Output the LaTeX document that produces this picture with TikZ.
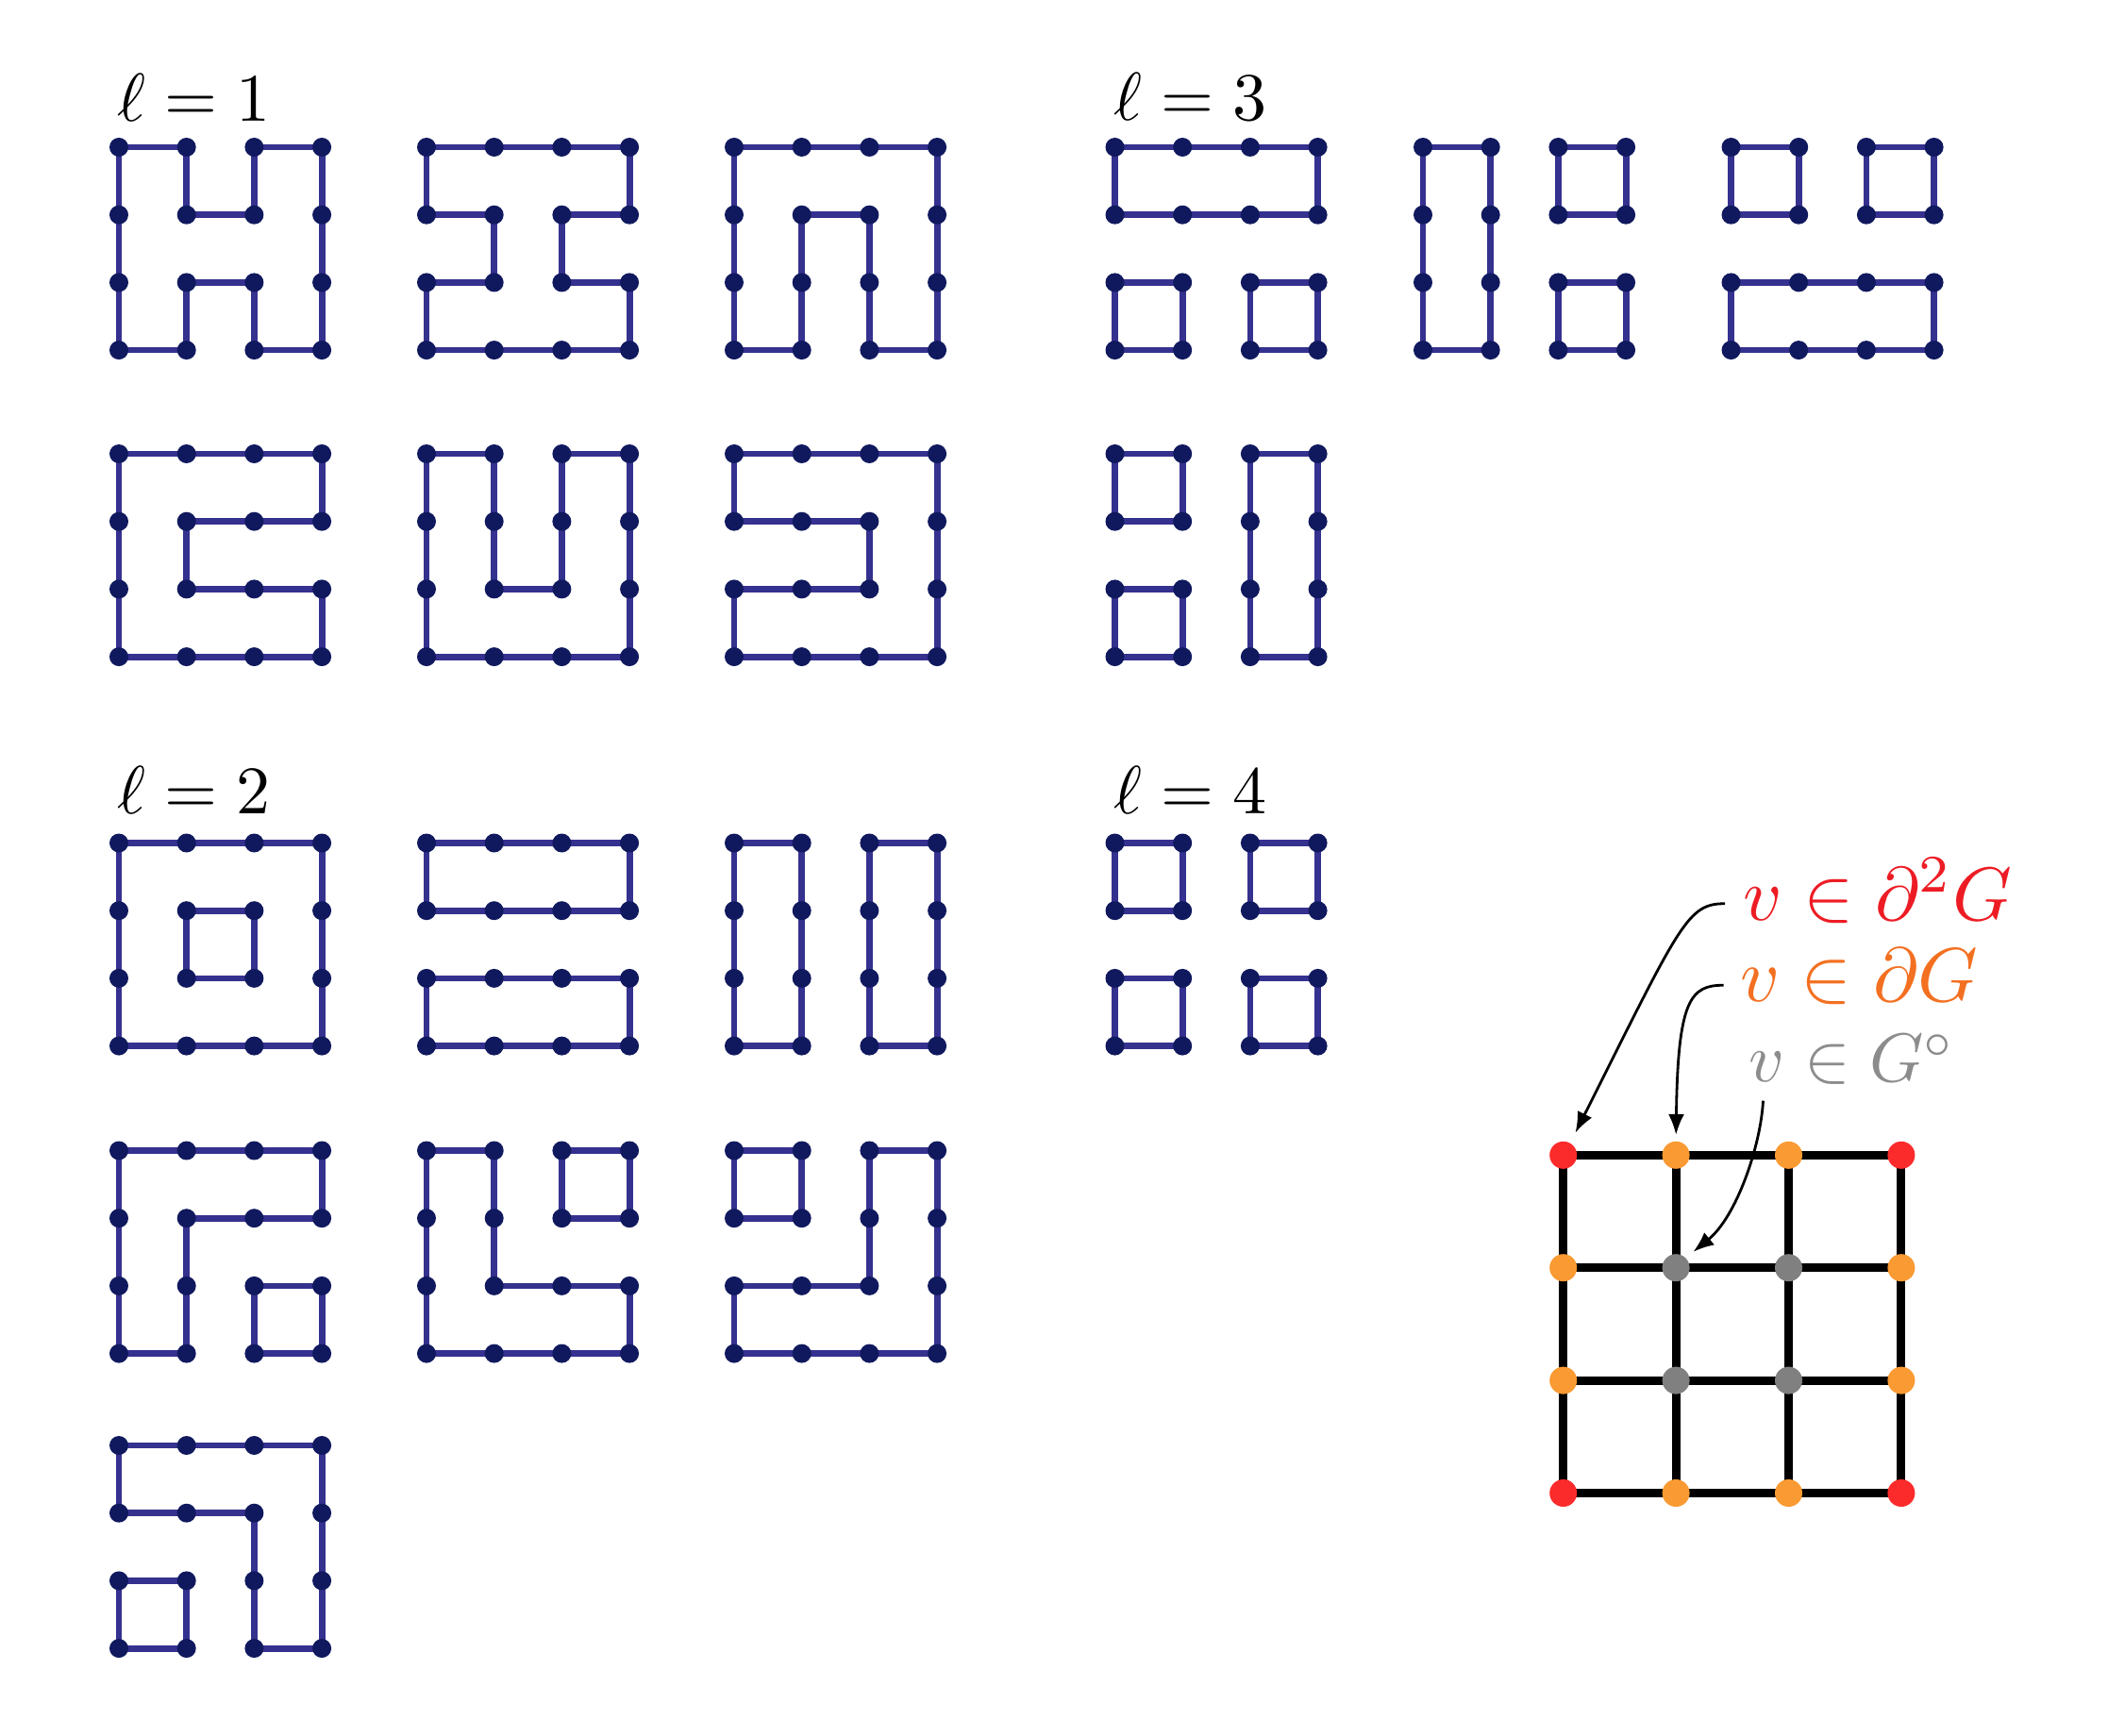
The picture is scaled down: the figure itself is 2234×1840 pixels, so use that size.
\documentclass[tikz,border=0pt]{standalone}
\usetikzlibrary{arrows.meta}
\pgfdeclarelayer{bg}
\pgfsetlayers{bg,main}
\definecolor{dotc}{HTML}{10195E}
\definecolor{edgec}{HTML}{35318F}
\definecolor{redd}{HTML}{FC2B2B}
\definecolor{orad}{HTML}{F99A32}
\definecolor{grad}{HTML}{808080}
\definecolor{redt}{HTML}{ED1C24}
\definecolor{orat}{HTML}{F37021}
\definecolor{grat}{HTML}{8C8C8C}
\newcommand\mkgrid[3]{\foreach \i in {0,...,3}{\foreach \j in {0,...,3}{\node[vdot] (#1-\i-\j) at ({#2+\i*71.7},{#3+\j*71.7}) {};}}}
\newcommand\mkcyc[3]{\draw[cedge] (#1-#2.center) foreach \p in {#3}{ -- (#1-\p.center)} -- cycle;}
\begin{document}
\begin{tikzpicture}[x=0.5pt,y=-0.5pt,
  vdot/.style={circle,fill=dotc,inner sep=0pt,minimum size=10pt},
  cedge/.style={draw=edgec,line width=3.4pt,line join=round},
  gdot/.style={circle,inner sep=0pt,minimum size=14.5pt},
  gline/.style={draw=black,line width=4.5pt},
  lab/.style={anchor=base west,inner sep=0pt,scale=3.6},
  lgd/.style={anchor=base west,inner sep=0pt},
  arr/.style={-{Latex[length=11pt,width=8.5pt]},line width=1.4pt}]
\useasboundingbox (0,0) rectangle (2234,1840);
% labels
\node[lab] (L1) at (123,128.5) {$\ell=1$};
\node[lab] (L3) at (1179,128) {$\ell=3$};
\node[lab] (L2) at (123,862) {$\ell=2$};
\node[lab] (L4) at (1179,862) {$\ell=4$};
% grids
\mkgrid{A1}{126}{156}
\mkgrid{A2}{452}{156}
\mkgrid{A3}{778}{156}
\mkgrid{A4}{126}{481}
\mkgrid{A5}{452}{481}
\mkgrid{A6}{778}{481}
\mkgrid{C1}{1181.5}{156}
\mkgrid{C2}{1508}{156}
\mkgrid{C3}{1834.5}{156}
\mkgrid{C4}{1181.5}{481}
\mkgrid{B1}{126}{893.5}
\mkgrid{B2}{452}{893.5}
\mkgrid{B3}{778}{893.5}
\mkgrid{B4}{126}{1219.5}
\mkgrid{B5}{452}{1219.5}
\mkgrid{B6}{778}{1219.5}
\mkgrid{B7}{126}{1532}
\mkgrid{D1}{1181.5}{893.5}
% big grid
\foreach \i in {0,...,3}{\foreach \j in {0,...,3}{
  \pgfmathtruncatemacro\bi{(\i==0||\i==3)+(\j==0||\j==3)}
  \ifcase\bi \def\cc{grad}\or \def\cc{orad}\or \def\cc{redd}\fi
  \node[gdot,fill=\cc] (g-\i-\j) at ({1656.7+\i*119.4},{1224.3+\j*119.4}) {};
}}
% legend
\node[lgd,scale=4.0,text=redt] (l1) at (1846,975) {$v\in\partial^2G$};
\node[lgd,scale=4.05,text=orat] (l2) at (1842.5,1061.7) {$v\in\partial G$};
\node[lgd,scale=3.65,text=grat] (l3) at (1852.5,1146.7) {$v\in G^\circ$};
\draw[arr,shorten >=6pt] ([xshift=-9pt]l1.mid west) .. controls +(-40,0) and +(117,-233) .. (g-0-0.60);
\draw[arr,shorten >=3.25pt] ([xshift=-8pt]l2.mid west) .. controls +(-35,0) and +(2,-150) .. (g-1-0.north);
\draw[arr,shorten >=5pt] ([xshift=8pt,yshift=-10pt]l3.base west) .. controls +(-2.5,47.7) and +(53.7,-43.7) .. (g-1-1.45);
\begin{pgfonlayer}{bg}
% l = 1
\mkcyc{A1}{0-0}{1-0,1-1,2-1,2-0,3-0,3-1,3-2,3-3,2-3,2-2,1-2,1-3,0-3,0-2,0-1}
\mkcyc{A2}{0-0}{1-0,2-0,3-0,3-1,2-1,2-2,3-2,3-3,2-3,1-3,0-3,0-2,1-2,1-1,0-1}
\mkcyc{A3}{0-0}{1-0,2-0,3-0,3-1,3-2,3-3,2-3,2-2,2-1,1-1,1-2,1-3,0-3,0-2,0-1}
\mkcyc{A4}{0-0}{1-0,2-0,3-0,3-1,2-1,1-1,1-2,2-2,3-2,3-3,2-3,1-3,0-3,0-2,0-1}
\mkcyc{A5}{0-0}{1-0,1-1,1-2,2-2,2-1,2-0,3-0,3-1,3-2,3-3,2-3,1-3,0-3,0-2,0-1}
\mkcyc{A6}{0-0}{1-0,2-0,3-0,3-1,3-2,3-3,2-3,1-3,0-3,0-2,1-2,2-2,2-1,1-1,0-1}
% l = 3
\mkcyc{C1}{0-0}{1-0,2-0,3-0,3-1,2-1,1-1,0-1}
\mkcyc{C1}{0-2}{1-2,1-3,0-3}
\mkcyc{C1}{2-2}{3-2,3-3,2-3}
\mkcyc{C2}{0-0}{1-0,1-1,1-2,1-3,0-3,0-2,0-1}
\mkcyc{C2}{2-0}{3-0,3-1,2-1}
\mkcyc{C2}{2-2}{3-2,3-3,2-3}
\mkcyc{C3}{0-0}{1-0,1-1,0-1}
\mkcyc{C3}{2-0}{3-0,3-1,2-1}
\mkcyc{C3}{0-2}{1-2,2-2,3-2,3-3,2-3,1-3,0-3}
\mkcyc{C4}{0-0}{1-0,1-1,0-1}
\mkcyc{C4}{0-2}{1-2,1-3,0-3}
\mkcyc{C4}{2-0}{3-0,3-1,3-2,3-3,2-3,2-2,2-1}
% l = 2
\mkcyc{B1}{0-0}{1-0,2-0,3-0,3-1,3-2,3-3,2-3,1-3,0-3,0-2,0-1}
\mkcyc{B1}{1-1}{2-1,2-2,1-2}
\mkcyc{B2}{0-0}{1-0,2-0,3-0,3-1,2-1,1-1,0-1}
\mkcyc{B2}{0-2}{1-2,2-2,3-2,3-3,2-3,1-3,0-3}
\mkcyc{B3}{0-0}{1-0,1-1,1-2,1-3,0-3,0-2,0-1}
\mkcyc{B3}{2-0}{3-0,3-1,3-2,3-3,2-3,2-2,2-1}
\mkcyc{B4}{0-0}{1-0,2-0,3-0,3-1,2-1,1-1,1-2,1-3,0-3,0-2,0-1}
\mkcyc{B4}{2-2}{3-2,3-3,2-3}
\mkcyc{B5}{0-0}{1-0,1-1,1-2,2-2,3-2,3-3,2-3,1-3,0-3,0-2,0-1}
\mkcyc{B5}{2-0}{3-0,3-1,2-1}
\mkcyc{B6}{0-0}{1-0,1-1,0-1}
\mkcyc{B6}{2-0}{3-0,3-1,3-2,3-3,2-3,1-3,0-3,0-2,1-2,2-2,2-1}
\mkcyc{B7}{0-0}{1-0,2-0,3-0,3-1,3-2,3-3,2-3,2-2,2-1,1-1,0-1}
\mkcyc{B7}{0-2}{1-2,1-3,0-3}
% l = 4
\mkcyc{D1}{0-0}{1-0,1-1,0-1}
\mkcyc{D1}{2-0}{3-0,3-1,2-1}
\mkcyc{D1}{0-2}{1-2,1-3,0-3}
\mkcyc{D1}{2-2}{3-2,3-3,2-3}
% big grid lines
\foreach \j in {0,...,3}{\draw[gline] (g-0-\j.center) -- (g-3-\j.center);}
\foreach \i in {0,...,3}{\draw[gline] (g-\i-0.center) -- (g-\i-3.center);}
\end{pgfonlayer}
\end{tikzpicture}
\end{document}
